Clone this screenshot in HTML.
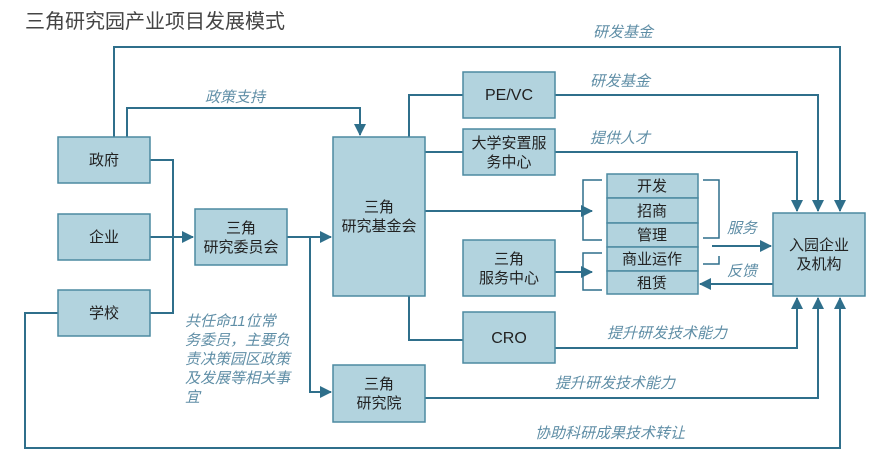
<!DOCTYPE html>
<html><head><meta charset="utf-8"><style>
html,body{margin:0;padding:0;background:#fff;}
svg{display:block;}
.b{fill:#b2d3de;stroke:#4c8aa1;stroke-width:1.5;}
.t{font-family:"Liberation Sans","Noto Sans CJK SC",sans-serif;font-size:15px;fill:#222;text-anchor:middle;}
.l{font-family:"Liberation Sans","Noto Sans CJK SC",sans-serif;font-size:15px;fill:#5f8ea6;font-style:italic;}
.c{fill:none;stroke:#2f6f8b;stroke-width:2;}
.c1{fill:none;stroke:#2f6f8b;stroke-width:1.5;}
</style></head><body>
<svg width="878" height="463" viewBox="0 0 878 463">
<defs><marker id="a" markerWidth="8" markerHeight="8" refX="7" refY="4" orient="auto" markerUnits="userSpaceOnUse"><path d="M0,0 L8,4 L0,8 z" fill="#2f6f8b"/></marker>
<marker id="A" markerWidth="12" markerHeight="12" refX="11" refY="6" orient="auto" markerUnits="userSpaceOnUse"><path d="M0,0 L12,6 L0,12 z" fill="#2f6f8b"/></marker></defs>
<text x="25" y="28" style="font-family:'Liberation Sans','Noto Sans CJK SC',sans-serif;font-size:20px;fill:#444">三角研究园产业项目发展模式</text>

<!-- connectors -->
<path class="c" d="M114,137 V47 H840 V211" marker-end="url(#A)"/>
<path class="c" d="M127,137 V108 H360 V135" marker-end="url(#A)"/>
<path class="c" d="M150,160 H173 V313 H150"/>
<path class="c" d="M150,237 H193" marker-end="url(#A)"/>
<path class="c" d="M287,237 H331" marker-end="url(#A)"/>
<path class="c" d="M310,237 V392 H331" marker-end="url(#A)"/>
<path class="c" d="M409,137 V95 H463"/>
<path class="c" d="M425,152 H463"/>
<path class="c" d="M425,211 H592" marker-end="url(#A)"/>
<path class="c" d="M555,272 H592" marker-end="url(#A)"/>
<path class="c1" d="M602,180 H583 V240 H602"/>
<path class="c1" d="M602,253 H583 V290 H602"/>
<path class="c1" d="M703,180 H719 V238 H703"/>
<path class="c1" d="M703,264 H719 V256"/>
<path class="c" d="M712,246 H771" marker-end="url(#A)"/>
<path class="c" d="M773,284 H700" marker-end="url(#A)"/>
<path class="c" d="M409,296 V340 H463"/>
<path class="c" d="M555,95 H818 V211" marker-end="url(#A)"/>
<path class="c" d="M555,152 H797 V211" marker-end="url(#A)"/>
<path class="c" d="M555,348 H797 V298" marker-end="url(#A)"/>
<path class="c" d="M425,398 H818 V298" marker-end="url(#A)"/>
<path class="c" d="M58,313 H25 V448 H840 V298" marker-end="url(#A)"/>

<!-- boxes -->
<rect class="b" x="58" y="137" width="92" height="46"/><text class="t" x="104" y="165">政府</text>
<rect class="b" x="58" y="214" width="92" height="46"/><text class="t" x="104" y="242">企业</text>
<rect class="b" x="58" y="290" width="92" height="46"/><text class="t" x="104" y="318">学校</text>
<rect class="b" x="195" y="209" width="92" height="56"/><text class="t" x="241" y="233">三角</text><text class="t" x="241" y="252">研究委员会</text>
<rect class="b" x="333" y="137" width="92" height="159"/><text class="t" x="379" y="212">三角</text><text class="t" x="379" y="231">研究基金会</text>
<rect class="b" x="463" y="72" width="92" height="46"/><text class="t" x="509" y="100" style="font-size:16px">PE/VC</text>
<rect class="b" x="463" y="129" width="92" height="46"/><text class="t" x="509" y="148">大学安置服</text><text class="t" x="509" y="167">务中心</text>
<rect class="b" x="463" y="240" width="92" height="56"/><text class="t" x="509" y="264">三角</text><text class="t" x="509" y="283">服务中心</text>
<rect class="b" x="463" y="312" width="92" height="51"/><text class="t" x="509" y="343" style="font-size:16px">CRO</text>
<rect class="b" x="333" y="365" width="92" height="57"/><text class="t" x="379" y="389">三角</text><text class="t" x="379" y="408">研究院</text>
<rect class="b" x="773" y="213" width="92" height="83"/><text class="t" x="819" y="250">入园企业</text><text class="t" x="819" y="269">及机构</text>
<rect class="b" x="607" y="174" width="91" height="24"/><text class="t" x="652" y="191">开发</text>
<rect class="b" x="607" y="198" width="91" height="25"/><text class="t" x="652" y="216">招商</text>
<rect class="b" x="607" y="223" width="91" height="24"/><text class="t" x="652" y="240">管理</text>
<rect class="b" x="607" y="247" width="91" height="24"/><text class="t" x="652" y="264">商业运作</text>
<rect class="b" x="607" y="271" width="91" height="23"/><text class="t" x="652" y="288">租赁</text>

<!-- labels -->
<text class="l" x="593" y="37">研发基金</text>
<text class="l" x="590" y="86">研发基金</text>
<text class="l" x="590" y="143">提供人才</text>
<text class="l" x="205" y="102">政策支持</text>
<text class="l" x="727" y="233">服务</text>
<text class="l" x="727" y="276">反馈</text>
<text class="l" x="607" y="338">提升研发技术能力</text>
<text class="l" x="555" y="388">提升研发技术能力</text>
<text class="l" x="535" y="438">协助科研成果技术转让</text>
<text class="l" x="185" y="326">共任命11位常</text>
<text class="l" x="185" y="345">务委员，主要负</text>
<text class="l" x="185" y="364">责决策园区政策</text>
<text class="l" x="185" y="383">及发展等相关事</text>
<text class="l" x="185" y="402">宜</text>
</svg>
</body></html>
